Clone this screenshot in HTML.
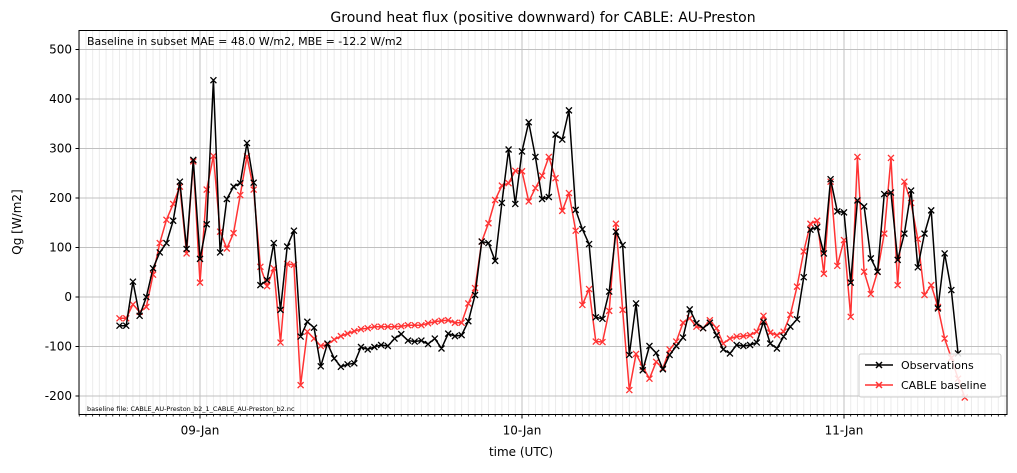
<!DOCTYPE html>
<html><head><meta charset="utf-8"><style>
body{margin:0;background:#fff;}
svg text{font-family:"DejaVu Sans","Liberation Sans",sans-serif;}
</style></head><body>
<svg id="chart" width="1017" height="468" xmlns="http://www.w3.org/2000/svg">
<rect width="1017" height="468" fill="#fff"/>
<g id="grid"></g>
<g id="series"></g>
<rect x="79" y="30.5" width="928" height="384" fill="none" stroke="#000" stroke-width="1"/>
<g id="axes"></g>
<text x="543" y="22" text-anchor="middle" font-size="14">Ground heat flux (positive downward) for CABLE: AU-Preston</text>
<text x="87" y="45" font-size="11">Baseline in subset MAE = 48.0 W/m2, MBE = -12.2 W/m2</text>
<text x="87" y="411" font-size="6.5">baseline file: CABLE_AU-Preston_b2_1_CABLE_AU-Preston_b2.nc</text>
<text x="521" y="456" text-anchor="middle" font-size="12">time (UTC)</text>
<text transform="translate(21,222) rotate(-90)" text-anchor="middle" font-size="12">Qg [W/m2]</text>
<g>
<rect x="859" y="354" width="142" height="43" rx="2" fill="#fff" fill-opacity="0.85" stroke="#ccc"/>
<line x1="865" y1="365" x2="893" y2="365" stroke="#000" stroke-width="1.5"/>
<path d="M876,362 l6,6 M882,362 l-6,6" stroke="#000" stroke-width="1.5"/>
<text x="901" y="369" font-size="11">Observations</text>
<line x1="865" y1="385" x2="893" y2="385" stroke="rgb(255,51,51)" stroke-width="1.5"/>
<path d="M876,382 l6,6 M882,382 l-6,6" stroke="rgb(255,51,51)" stroke-width="1.5"/>
<text x="901" y="389" font-size="11">CABLE baseline</text>
</g>
</svg>
<script>
const startHour = -6; // 08-Jan 18:00 relative to 09-Jan 00:00
const stepHours = 0.5;
const yTicks = [-200,-100,0,100,200,300,400,500];
const dayLabels = ["09-Jan","10-Jan","11-Jan"];
const dayHours = [0,24,48];
const observations = [-58,-58,31,-38,0,58,90,109,154,233,97,277,77,147,438,90,198,223,230,311,231,24,34,109,-26,102,134,-80,-50,-62,-140,-94,
-124,-141,-136,-134,-101,-106,-101,-97,-99,-84,-75,-88,-90,-88,-95,-84,-104,-74,-79,-77,-49,4,112,109,73,190,298,188,294,353,283,198,202,328,318,377,
176,137,107,-41,-44,11,132,105,-117,-13,-148,-99,-113,-146,-117,-99,-82,-25,-53,-63,-52,-77,-106,-114,-97,-99,-97,-92,-50,-94,-104,-80,-60,-45,
40,136,141,88,238,173,171,29,195,183,78,51,208,211,75,128,215,60,128,175,-23,88,14,-114,null];
const cableBaseline = [-43,-43,-15,-30,-20,45,109,156,188,223,88,274,29,217,285,132,98,129,206,284,217,61,22,58,-92,67,65,-178,-70,-84,-99,-96,
-86,-79,-74,-69,-65,-63,-60,-60,-60,-60,-59,-57,-57,-57,-53,-50,-48,-47,-52,-52,-13,18,112,149,196,225,230,255,254,193,220,245,283,240,174,210,
134,-16,16,-90,-91,-28,148,-26,-188,-115,-141,-165,-131,-144,-106,-90,-52,-43,-60,-63,-47,-63,-94,-84,-80,-79,-77,-70,-38,-72,-77,-70,-36,21,
92,148,154,47,233,63,115,-40,283,51,6,51,128,281,24,233,190,117,4,24,-20,-84,-123,-165,-203];

const NS="http://www.w3.org/2000/svg";
const L=79,R=1007,T=30.5,B=414.5;
const xPx=h=>200+h*(322/24);
const yPx=v=>297-v*0.495;
const hMin=(L-200)/(322/24), hMax=(R-200)/(322/24);
function mk(tag,attrs,parent){const e=document.createElementNS(NS,tag);for(const k in attrs)e.setAttribute(k,attrs[k]);parent.appendChild(e);return e;}
const grid=document.getElementById('grid'),axes=document.getElementById('axes'),ser=document.getElementById('series');
for(let h=Math.ceil(hMin*2)/2;h<=hMax;h+=0.5){
  const x=xPx(h);
  const g=mk('line',{x1:x,x2:x,y1:T,y2:B,stroke:'#ececec','stroke-width':1},grid);
  
  
  const t=mk('line',{x1:x,x2:x,y1:B,y2:B+2,stroke:'#000','stroke-width':0.8},axes);
  
  
}
yTicks.forEach(v=>{
  const y=yPx(v);
  const g=mk('line',{x1:L,x2:R,y1:y,y2:y,stroke:'#c0c0c0','stroke-width':1},grid);
  
  
  mk('line',{x1:L-3.5,x2:L,y1:y,y2:y,stroke:'#000'},axes);
  const t=mk('text',{x:L-7,y:y+4,'text-anchor':'end','font-size':12},axes);
  t.textContent=v;
  
  
});
dayHours.forEach((h,i)=>{
  const x=xPx(h);
  const g=mk('line',{x1:x,x2:x,y1:T,y2:B,stroke:'#c0c0c0','stroke-width':1},grid);
  
  
  mk('line',{x1:x,x2:x,y1:B,y2:B+4,stroke:'#000'},axes);
  const t=mk('text',{x:x,y:B+20,'text-anchor':'middle','font-size':12},axes);
  t.textContent=dayLabels[i];
  
  
});
function draw(data,color,name){
  const pts=[];
  data.forEach((v,i)=>{if(v!==null)pts.push([xPx(startHour+i*stepHours),yPx(v)]);});
  const p=mk('polyline',{points:pts.map(p=>p.join(',')).join(' '),fill:'none',stroke:color,'stroke-width':1.5,'stroke-linejoin':'round'},ser);
  
  
  let d='';
  pts.forEach(([x,y])=>{d+=`M${x-3},${y-3}l6,6M${x+3},${y-3}l-6,6`;});
  const m=mk('path',{d:d,stroke:color,'stroke-width':1.3,fill:'none'},ser);
  
  
}
draw(cableBaseline,'rgb(255,51,51)','cable-baseline');
draw(observations,'#000','observations');
</script>
</body></html>
